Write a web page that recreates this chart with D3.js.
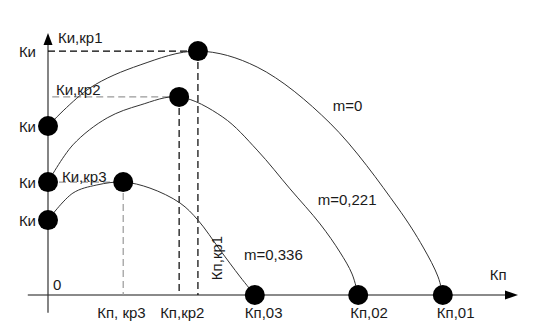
<!DOCTYPE html>
<html>
<head>
<meta charset="utf-8">
<script src="https://cdn.jsdelivr.net/npm/d3@7"></script>
<style>
	body { margin: 0; background: #fff; }
	text { font-family: "Liberation Sans", Arial, sans-serif; font-size: 15px; fill: #1a1a1a; }
</style>
</head>
<body>
<div id="chart"></div>
<script>

// curves, values in chart units (Кп along x, Ки along y)
const curveNames = ["m=0", "m=0,221", "m=0,336"];
const kp_m0 = [0, 0.89, 1.96, 3.19, 4.45, 6.00, 7.43, 7.98, 8.30, 8.40];
const ki_m0 = [6.45, 7.90, 8.78, 9.31, 8.70, 6.56, 3.36, 1.83, 0.69, 0];
const kp_m221 = [0, 0.53, 1.26, 1.96, 2.79, 3.72, 4.45, 5.15, 5.79, 6.21, 6.47, 6.60];
const ki_m221 = [4.31, 5.73, 6.76, 7.25, 7.56, 6.79, 5.53, 4.05, 2.71, 1.64, 0.80, 0];
const kp_m336 = [0, 0.53, 1.04, 1.60, 2.17, 2.81, 3.19, 3.66, 4.09, 4.40];
const ki_m336 = [2.86, 3.89, 4.20, 4.31, 4.08, 3.51, 2.86, 1.72, 0.69, 0];

// critical points (peaks) and end points
const kpCrit = [3.19, 2.79, 1.60];
const kiCrit = [9.31, 7.56, 4.31];
const kiStart = [6.45, 4.31, 2.86];
const kpZero = [8.40, 6.60, 4.40];

// labels
const critLabels = ["Ки,кр1", "Ки,кр2", "Ки,кр3"];
const kpLabels = ["Кп, кр3", "Кп,кр2", "Кп,03", "Кп,02", "Кп,01"];
const kpLabelVals = [1.60, 2.79, 4.40, 6.60, 8.40];
const kiLabelVals = [9.31, 6.45, 4.31, 2.86];

const w = 535;
const h = 336;

const x = d3.scaleLinear().domain([0, 10]).range([48, 518]);
const y = d3.scaleLinear().domain([0, 10]).range([295, 33]);

const svg = d3.select("#chart")
	.append("svg")
	.attr("width", w)
	.attr("height", h);

// axes
svg.append("line")
	.attr("x1", x(-0.43)).attr("x2", x(9.75))
	.attr("y1", y(0)).attr("y2", y(0))
	.attr("stroke", "#8a8a8a")
	.attr("stroke-width", 2);

svg.append("path")
	.attr("d", `M${x(10)},${y(0)} L${x(10) - 13},${y(0) - 4.5} L${x(10) - 13},${y(0) + 4.5} Z`)
	.attr("fill", "#000");

svg.append("line")
	.attr("x1", x(0)).attr("x2", x(0))
	.attr("y1", y(-0.68)).attr("y2", y(9.55))
	.attr("stroke", "#333")
	.attr("stroke-width", 1.2);

svg.append("path")
	.attr("d", `M${x(0)},${y(10)} L${x(0) - 4.5},${y(10) + 12} L${x(0) + 4.5},${y(10) + 12} Z`)
	.attr("fill", "#000");

// dashed guides
const guides = [
	{ x1: x(0), y1: y(kiCrit[0]), x2: x(kpCrit[0]), y2: y(kiCrit[0]), c: "#000" },
	{ x1: x(kpCrit[0]), y1: y(kiCrit[0]), x2: x(kpCrit[0]), y2: y(0), c: "#000" },
	{ x1: x(0.09), y1: y(kiCrit[1]), x2: x(kpCrit[1]), y2: y(kiCrit[1]), c: "#999" },
	{ x1: x(kpCrit[1]), y1: y(kiCrit[1]), x2: x(kpCrit[1]), y2: y(0), c: "#000" },
	{ x1: x(0), y1: y(kiCrit[2]), x2: x(kpCrit[2]), y2: y(kiCrit[2]), c: "#999" },
	{ x1: x(kpCrit[2]), y1: y(kiCrit[2]), x2: x(kpCrit[2]), y2: y(0), c: "#999" }
];

svg.selectAll("line.guide")
	.data(guides)
	.enter()
	.append("line")
	.attr("class", "guide")
	.attr("x1", d => d.x1).attr("y1", d => d.y1)
	.attr("x2", d => d.x2).attr("y2", d => d.y2)
	.attr("stroke", d => d.c)
	.attr("stroke-width", 1.2)
	.attr("stroke-dasharray", "7,4");

// curves
const curves = [
	d3.zip(kp_m0, ki_m0),
	d3.zip(kp_m221, ki_m221),
	d3.zip(kp_m336, ki_m336)
];

const line = d3.line()
	.x(d => x(d[0]))
	.y(d => y(d[1]))
	.curve(d3.curveCatmullRom.alpha(0.5));

svg.selectAll("path.curve")
	.data(curves)
	.enter()
	.append("path")
	.attr("class", "curve")
	.attr("d", line)
	.attr("fill", "none")
	.attr("stroke", "#333")
	.attr("stroke-width", 1);

// dots
const dots = []
	.concat(kpCrit.map((d, i) => [d, kiCrit[i]]))
	.concat(kiStart.map(d => [0, d]))
	.concat(kpZero.map(d => [d, 0]));

svg.selectAll("circle")
	.data(dots)
	.enter()
	.append("circle")
	.attr("cx", d => x(d[0]))
	.attr("cy", d => y(d[1]))
	.attr("r", 10)
	.attr("fill", "#000");

// Ки labels on the left
svg.selectAll("text.ki")
	.data(kiLabelVals)
	.enter()
	.append("text")
	.attr("class", "ki")
	.attr("x", x(0) - 12)
	.attr("y", d => y(d) + 5.5)
	.attr("text-anchor", "end")
	.text("Ки");

// critical labels
const critOffsets = [[10, -8], [8, -2], [14, 0]];
svg.selectAll("text.crit")
	.data(critLabels)
	.enter()
	.append("text")
	.attr("class", "crit")
	.attr("x", (d, i) => x(0) + critOffsets[i][0])
	.attr("y", (d, i) => y(kiCrit[i]) + critOffsets[i][1])
	.text(d => d);

// Кп labels under the axis
const kpDx = [-26, -19, -10, -8, -6];
svg.selectAll("text.kp")
	.data(kpLabels)
	.enter()
	.append("text")
	.attr("class", "kp")
	.attr("x", (d, i) => x(kpLabelVals[i]) + kpDx[i])
	.attr("y", y(0) + 23)
	.text(d => d);

// curve names
const namePos = [[6.06, 7.02], [5.74, 3.44], [4.17, 1.34]];
svg.selectAll("text.name")
	.data(curveNames)
	.enter()
	.append("text")
	.attr("class", "name")
	.attr("x", (d, i) => x(namePos[i][0]))
	.attr("y", (d, i) => y(namePos[i][1]))
	.text(d => d);

svg.append("text")
	.attr("x", x(9.40))
	.attr("y", y(0) - 15)
	.text("Кп");

svg.append("text")
	.attr("x", x(0) + 5)
	.attr("y", y(0) - 5)
	.text("0");

svg.append("text")
	.attr("transform", `translate(${x(kpCrit[0]) + 24}, ${y(0) - 37}) rotate(-90)`)
	.attr("text-anchor", "middle")
	.text("Кп,кр1");

</script>
</body>
</html>
